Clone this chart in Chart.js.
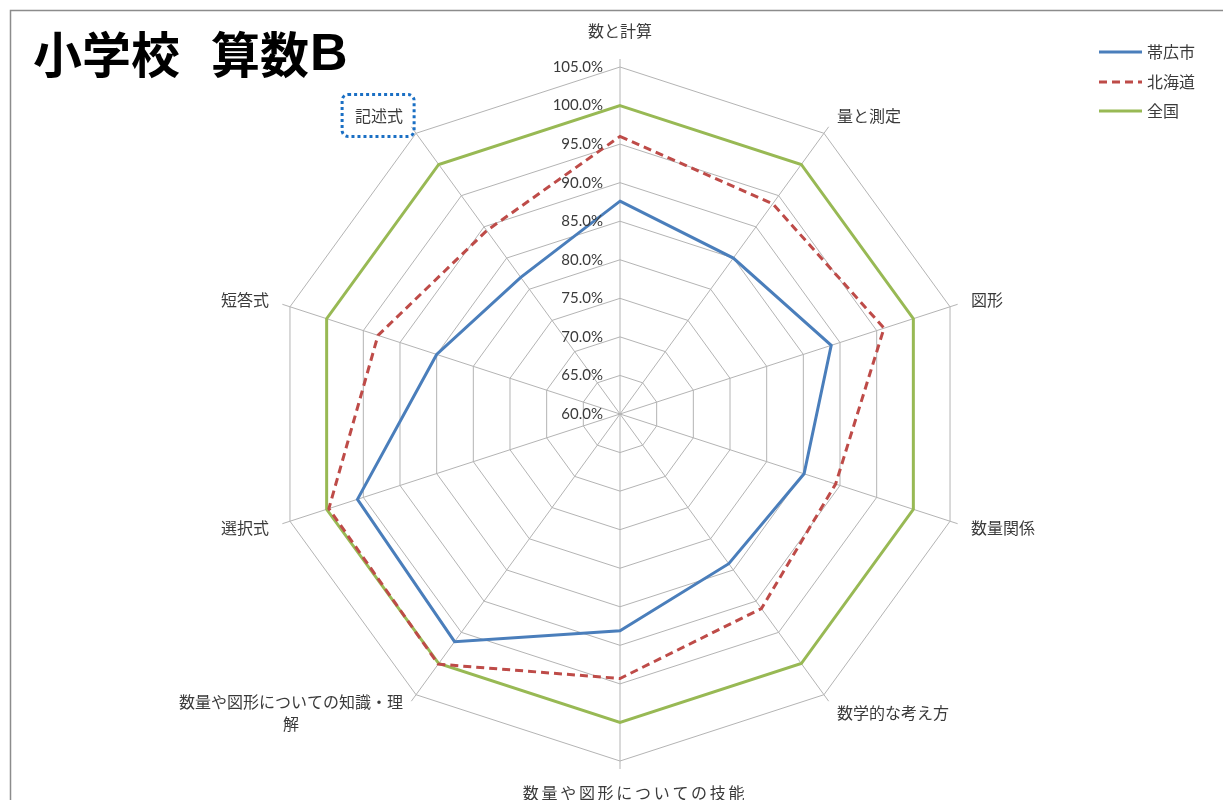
<!DOCTYPE html>
<html lang="ja">
<head>
<meta charset="utf-8">
<title>小学校 算数B</title>
<script src="https://cdn.jsdelivr.net/npm/chart.js@4.4.1/dist/chart.umd.min.js"></script>
<style>
  html, body { margin: 0; padding: 0; background: #fff; }
  canvas { display: block; }
</style>
</head>
<body>
<canvas id="radar" width="1223" height="800"></canvas>
<script>
// Categories (axis labels, clockwise from the top)
const categories = [
  '数と計算',
  '量と測定',
  '図形',
  '数量関係',
  '数学的な考え方',
  '数量や図形についての技能',
  ['数量や図形についての知識・理', '解'],
  '選択式',
  '短答式',
  '記述式'
];

// Rates relative to the national average (%)
const obihiro  = [87.6, 85.0, 88.8, 85.1, 84.0, 88.1, 96.5, 95.8, 85.0, 81.9];
const hokkaido = [96.0, 93.7, 96.0, 89.4, 91.2, 94.3, 100.1, 99.7, 93.0, 89.4];
const zenkoku  = [100.0, 100.0, 100.0, 100.0, 100.0, 100.0, 100.0, 100.0, 100.0, 100.0];

const seriesNames = ['帯広市', '北海道', '全国'];

// Radial axis range
const axisMin = 60;
const axisMax = 105;
const axisStep = 5;

const LABEL_FONT = '16px "Noto Sans CJK JP", "Noto Sans", sans-serif';
const TICK_FONT = '15px Lato, "Liberation Sans", sans-serif';
const TEXT_COLOR = '#3a3a3a';
const GRID_COLOR = '#b4b4b4';

const decor = {
  id: 'decor',
  beforeDraw(chart) {
    const ctx = chart.ctx;
    ctx.save();
    ctx.fillStyle = '#ffffff';
    ctx.fillRect(0, 0, chart.width, chart.height);
    ctx.restore();
  },
  afterDraw(chart) {
    const ctx = chart.ctx;
    const r = chart.scales.r;
    ctx.save();

    // chart frame
    ctx.strokeStyle = '#8c8c8c';
    ctx.lineWidth = 1.5;
    ctx.strokeRect(10.5, 10.5, 1400, 1000);

    // title
    ctx.fillStyle = '#000';
    ctx.textAlign = 'left';
    ctx.textBaseline = 'middle';
    ctx.font = 'bold 49px "Noto Sans CJK JP", sans-serif';
    ctx.fillText('小学校', 33, 54);
    ctx.fillText('算数', 211, 54);
    ctx.font = 'bold 52px "Liberation Sans", Arial, sans-serif';
    ctx.fillText('B', 310, 56);

    // short extensions of the spokes past the outer ring
    const n = categories.length;
    ctx.strokeStyle = GRID_COLOR;
    ctx.lineWidth = 1;
    for (let i = 0; i < n; i++) {
      const a = r.getPointPosition(i, r.drawingArea);
      const b = r.getPointPosition(i, r.drawingArea + 8);
      ctx.beginPath();
      ctx.moveTo(a.x, a.y);
      ctx.lineTo(b.x, b.y);
      ctx.stroke();
    }

    // tick labels, right-aligned beside the vertical spoke
    ctx.fillStyle = TEXT_COLOR;
    ctx.font = TICK_FONT;
    ctx.textAlign = 'right';
    ctx.textBaseline = 'middle';
    r.ticks.forEach(t => {
      const d = r.getDistanceFromCenterForValue(t.value);
      ctx.fillText(t.value.toFixed(1) + '%', r.xCenter - 17, r.yCenter - d);
    });

    // category labels
    ctx.font = LABEL_FONT;
    const lh = 22;
    for (let i = 0; i < n; i++) {
      const ang = i * 2 * Math.PI / n;
      const s = Math.sin(ang), c = Math.cos(ang);
      const v = r.getPointPosition(i, r.drawingArea);
      const lab = categories[i];
      const lines = Array.isArray(lab) ? lab : [lab];
      ctx.letterSpacing = (i === 5) ? '2.7px' : '0px';
      const w = Math.max(...lines.map(l => ctx.measureText(l).width));
      let cx, cy;
      if (Math.abs(s) < 0.01) {
        cx = c > 0 ? v.x : v.x + 15;
        cy = c > 0 ? v.y - 36 : v.y + 32;
      } else {
        const ax = v.x + 22 * s;
        cy = v.y - 22 * c;
        cx = s > 0 ? ax + w / 2 : ax - w / 2;
      }
      ctx.textAlign = 'center';
      lines.forEach((l, k) => {
        ctx.fillText(l, cx, cy - (lines.length - 1) * lh / 2 + k * lh);
      });
      // selection outline around the last label
      if (i === n - 1) {
        ctx.save();
        ctx.letterSpacing = '0px';
        ctx.strokeStyle = '#1a6fc4';
        ctx.lineWidth = 3;
        ctx.setLineDash([3, 3]);
        const bx = cx - w / 2 - 13, by = cy - 21, bw = w + 24, bh = 42;
        ctx.beginPath();
        ctx.roundRect(bx, by, bw, bh, 6);
        ctx.stroke();
        ctx.restore();
      }
    }
    ctx.letterSpacing = '0px';

    // legend
    const legY = [52, 82, 111];
    chart.data.datasets.forEach((ds, k) => {
      ctx.strokeStyle = ds.borderColor;
      ctx.lineWidth = 3;
      ctx.setLineDash(ds.borderDash || []);
      ctx.beginPath();
      ctx.moveTo(1099, legY[k]);
      ctx.lineTo(1142, legY[k]);
      ctx.stroke();
      ctx.setLineDash([]);
      ctx.fillStyle = TEXT_COLOR;
      ctx.font = LABEL_FONT;
      ctx.textAlign = 'left';
      ctx.textBaseline = 'middle';
      ctx.fillText(ds.label, 1147, legY[k]);
    });

    ctx.restore();
  }
};

new Chart(document.getElementById('radar'), {
  type: 'radar',
  data: {
    labels: categories,
    datasets: [
      {
        label: seriesNames[0],
        data: obihiro,
        borderColor: '#4a7ebb',
        borderWidth: 3,
        fill: false
      },
      {
        label: seriesNames[1],
        data: hokkaido,
        borderColor: '#be4b48',
        borderWidth: 3,
        borderDash: [8, 5],
        fill: false
      },
      {
        label: seriesNames[2],
        data: zenkoku,
        borderColor: '#98b954',
        borderWidth: 3,
        fill: false
      }
    ]
  },
  options: {
    responsive: false,
    animation: false,
    devicePixelRatio: 1,
    elements: {
      line: { tension: 0 },
      point: { radius: 0, hoverRadius: 0 }
    },
    plugins: {
      legend: { display: false },
      tooltip: { enabled: false }
    },
    scales: {
      r: {
        min: axisMin,
        max: axisMax,
        ticks: { stepSize: axisStep, display: false },
        pointLabels: { display: false },
        grid: { color: GRID_COLOR, lineWidth: 1 },
        angleLines: { color: GRID_COLOR, lineWidth: 1 },
        afterFit(scale) {
          scale.xCenter = 620;
          scale.yCenter = 414;
          scale.drawingArea = 347;
        }
      }
    }
  },
  plugins: [decor]
});
</script>
</body>
</html>
